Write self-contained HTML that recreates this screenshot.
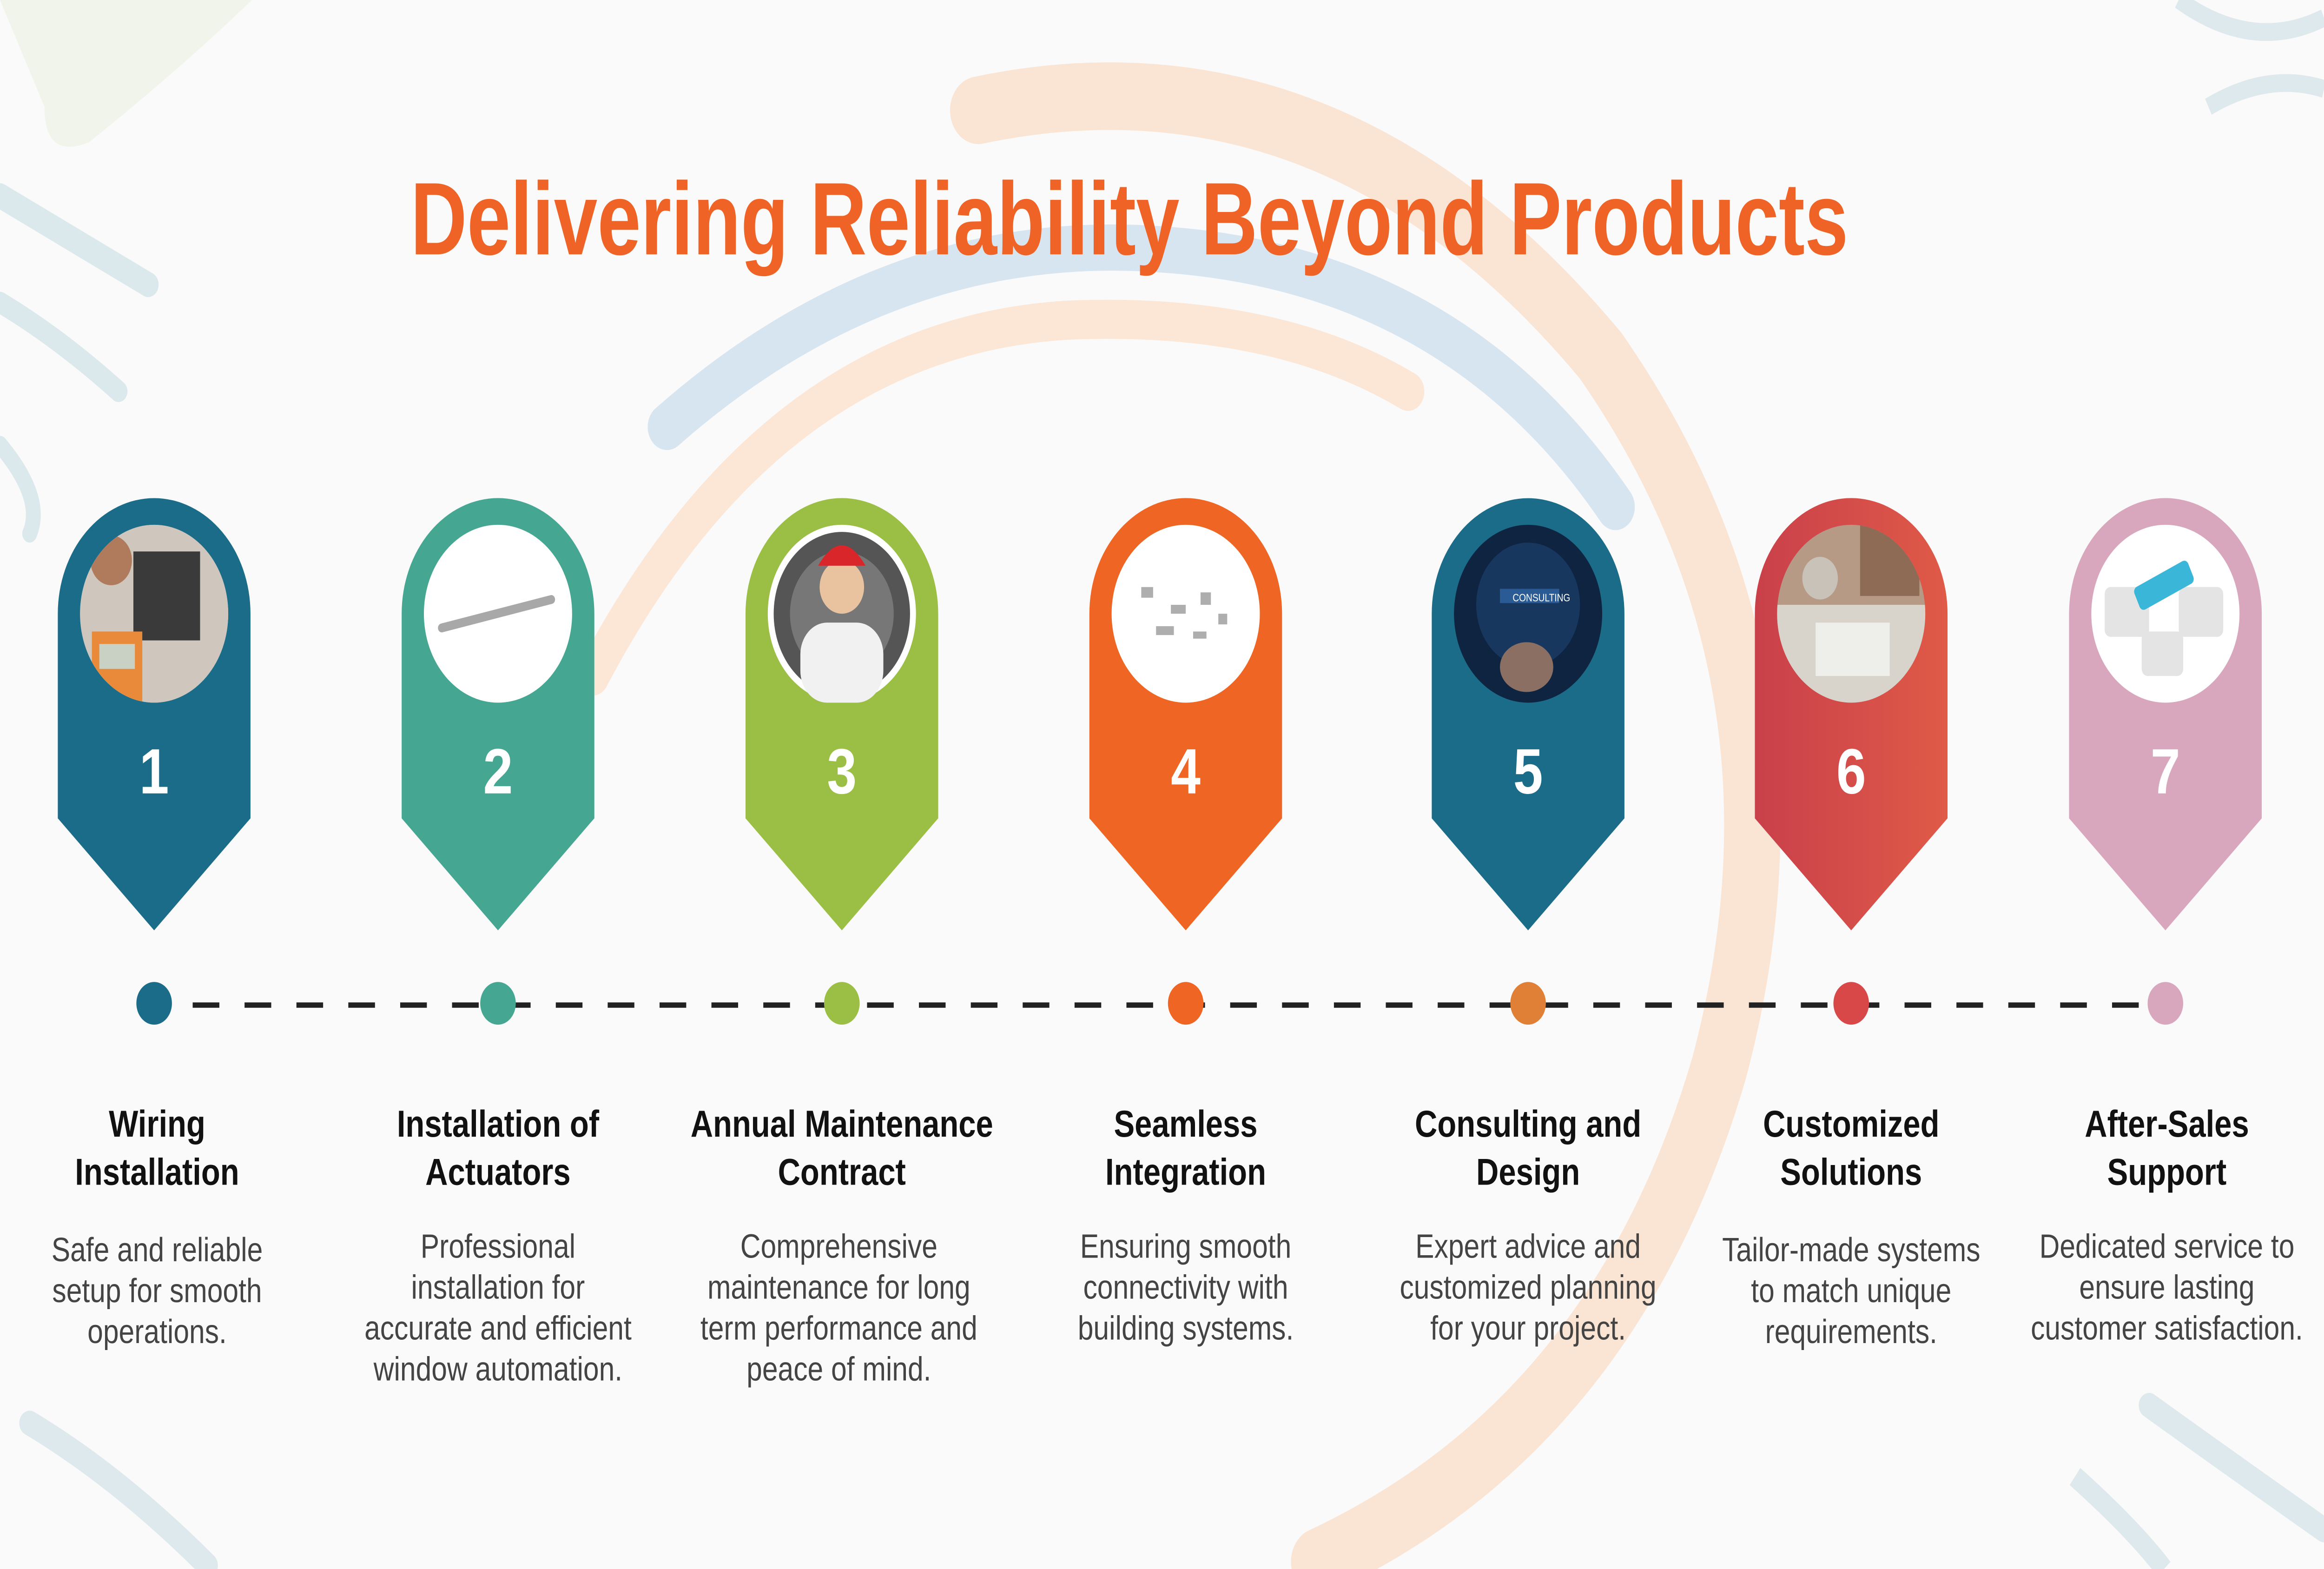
<!DOCTYPE html>
<html><head><meta charset="utf-8"><style>
html,body{margin:0;padding:0;background:#fbfafa;width:100%;height:100%;overflow:hidden;}
svg{display:block;width:100vw;height:100vh;position:absolute;left:0;top:0;}
text{font-family:"Liberation Sans",sans-serif;}
</style></head><body>
<svg viewBox="0 0 1568 882" preserveAspectRatio="none" xmlns="http://www.w3.org/2000/svg">
<defs>
<clipPath id="c1"><circle cx="104" cy="345" r="50"/></clipPath>
<clipPath id="c5"><circle cx="1031" cy="345" r="50"/></clipPath>
<clipPath id="c6"><circle cx="1249" cy="345" r="50"/></clipPath>
<linearGradient id="g6" x1="0" y1="0" x2="1" y2="0"><stop offset="0" stop-color="#c9404a"/><stop offset="1" stop-color="#e05a48"/></linearGradient>
</defs>
<rect width="1568" height="882" fill="#fbfafa"/>
<path d="M0,0 L170,0 Q120,40 60,80 Q30,90 30,60 Z" fill="#eef3e6" opacity="0.8"/>
<path d="M0,110 Q60,140 100,160" stroke="#dbe8ec" stroke-width="14" fill="none" stroke-linecap="round"/>
<path d="M0,170 Q40,190 80,220" stroke="#dbe8ec" stroke-width="12" fill="none" stroke-linecap="round"/>
<path d="M0,250 Q30,280 20,300" stroke="#dbe8ec" stroke-width="10" fill="none" stroke-linecap="round"/>
<path d="M20,800 Q80,830 140,880" stroke="#dde9ec" stroke-width="14" fill="none" stroke-linecap="round"/>
<path d="M1470,0 Q1520,30 1568,10" stroke="#dde9ec" stroke-width="10" fill="none"/>
<path d="M1490,60 Q1530,40 1568,50" stroke="#dde9ec" stroke-width="10" fill="none"/>
<path d="M1450,790 Q1500,820 1568,860" stroke="#dde9ec" stroke-width="14" fill="none" stroke-linecap="round"/>
<path d="M1400,830 Q1440,860 1460,882" stroke="#dde9ec" stroke-width="12" fill="none"/>
<path d="M660,62 Q900,20 1080,200 Q1230,380 1160,600 Q1090,800 890,878" stroke="#f9e1cc" stroke-width="38" fill="none" opacity="0.85" stroke-linecap="round"/>
<path d="M450,240 Q600,130 780,140 Q980,150 1090,285" stroke="#d3e2f0" stroke-width="26" fill="none" opacity="0.9" stroke-linecap="round"/>
<path d="M400,380 Q520,190 720,180 Q860,175 950,220" stroke="#fbe3cf" stroke-width="22" fill="none" opacity="0.85" stroke-linecap="round"/>
<text x="762" y="143" text-anchor="middle" font-size="58" font-weight="bold" fill="#ef6426" textLength="970" lengthAdjust="spacingAndGlyphs">Delivering Reliability Beyond Products</text>
<line x1="130" y1="565" x2="1450" y2="565" stroke="#222" stroke-width="3" stroke-dasharray="18,17"/>
<path d="M39,345 A65,65 0 0 1 169,345 L169,460 L104,523 L39,460 Z" fill="#1a6c88"/>
<path d="M271,345 A65,65 0 0 1 401,345 L401,460 L336,523 L271,460 Z" fill="#45a791"/>
<path d="M503,345 A65,65 0 0 1 633,345 L633,460 L568,523 L503,460 Z" fill="#9abf44"/>
<path d="M735,345 A65,65 0 0 1 865,345 L865,460 L800,523 L735,460 Z" fill="#ef6624"/>
<path d="M966,345 A65,65 0 0 1 1096,345 L1096,460 L1031,523 L966,460 Z" fill="#1a6c88"/>
<path d="M1184,345 A65,65 0 0 1 1314,345 L1314,460 L1249,523 L1184,460 Z" fill="url(#g6)"/>
<path d="M1396,345 A65,65 0 0 1 1526,345 L1526,460 L1461,523 L1396,460 Z" fill="#d8a6bd"/>
<circle cx="104" cy="345" r="50" fill="#d8d2cc"/>
<g clip-path="url(#c1)"><rect x="54" y="295" width="100" height="100" fill="#cfc6bd"/><rect x="90" y="310" width="45" height="50" fill="#3a3a3a"/><rect x="62" y="355" width="34" height="40" fill="#e98a3a"/><rect x="67" y="362" width="24" height="14" fill="#c9d0c4"/><circle cx="75" cy="315" r="14" fill="#b07a5c"/></g>
<circle cx="336" cy="345" r="50" fill="#fff"/>
<line x1="298" y1="353" x2="372" y2="337" stroke="#a8a8a8" stroke-width="5" stroke-linecap="round"/>
<circle cx="568" cy="345" r="50" fill="#fff"/>
<circle cx="568" cy="345" r="46" fill="#555"/><circle cx="568" cy="345" r="35" fill="#777"/>
<rect x="540" y="350" width="56" height="45" rx="18" fill="#f1f1f1"/>
<circle cx="568" cy="330" r="15" fill="#e9c2a0"/>
<path d="M552,318 Q568,295 584,318 Z" fill="#d9262b"/>
<circle cx="800" cy="345" r="50" fill="#fff"/>
<g fill="#9a9a9a" opacity="0.8"><rect x="770" y="330" width="8" height="6"/><rect x="790" y="340" width="10" height="5"/><rect x="810" y="333" width="7" height="7"/><rect x="780" y="352" width="12" height="5"/><rect x="805" y="355" width="9" height="4"/><rect x="822" y="345" width="6" height="6"/></g>
<circle cx="1031" cy="345" r="50" fill="#0e2440"/>
<g clip-path="url(#c5)"><circle cx="1031" cy="340" r="35" fill="#1b3c66" opacity="0.8"/><rect x="1012" y="331" width="40" height="8" fill="#2a5b95"/><text x="1040" y="338" font-size="6" fill="#fff" text-anchor="middle">CONSULTING</text><ellipse cx="1030" cy="375" rx="18" ry="14" fill="#8a6f62"/></g>
<circle cx="1249" cy="345" r="50" fill="#b79a86"/>
<g clip-path="url(#c6)"><rect x="1199" y="340" width="100" height="60" fill="#d8d4cc"/><rect x="1225" y="350" width="50" height="30" fill="#eeeeea"/><circle cx="1228" cy="325" r="12" fill="#c8c2b8"/><rect x="1255" y="295" width="40" height="40" fill="#8d6b54"/></g>
<circle cx="1461" cy="345" r="50" fill="#fff"/>
<g fill="#e4e4e4"><rect x="1420" y="330" width="30" height="28" rx="4"/><rect x="1470" y="330" width="30" height="28" rx="4"/><rect x="1445" y="355" width="28" height="25" rx="4"/></g>
<rect x="1440" y="322" width="40" height="14" rx="3" fill="#3ab7d8" transform="rotate(-25 1460 329)"/>
<g font-size="36" font-weight="bold" fill="#fff" text-anchor="middle">
<text x="104" y="446">1</text><text x="336" y="446">2</text><text x="568" y="446">3</text><text x="800" y="446">4</text><text x="1031" y="446">5</text><text x="1249" y="446">6</text><text x="1461" y="446">7</text>
</g>
<circle cx="104" cy="564" r="12" fill="#1a6c88"/>
<circle cx="336" cy="564" r="12" fill="#45a791"/>
<circle cx="568" cy="564" r="12" fill="#9abf44"/>
<circle cx="800" cy="564" r="12" fill="#ef6624"/>
<circle cx="1031" cy="564" r="12" fill="#e07f36"/>
<circle cx="1249" cy="564" r="12" fill="#d94848"/>
<circle cx="1461" cy="564" r="12" fill="#d8a6bd"/>
<g font-size="21" font-weight="bold" fill="#111" text-anchor="middle">
<text x="106" y="639">Wiring</text><text x="106" y="666">Installation</text>
<text x="336" y="639">Installation of</text><text x="336" y="666">Actuators</text>
<text x="568" y="639">Annual Maintenance</text><text x="568" y="666">Contract</text>
<text x="800" y="639">Seamless</text><text x="800" y="666">Integration</text>
<text x="1031" y="639">Consulting and</text><text x="1031" y="666">Design</text>
<text x="1249" y="639">Customized</text><text x="1249" y="666">Solutions</text>
<text x="1462" y="639">After-Sales</text><text x="1462" y="666">Support</text>
</g>
<g font-size="19" fill="#444" text-anchor="middle">
<text x="106" y="709">Safe and reliable</text><text x="106" y="732">setup for smooth</text><text x="106" y="755">operations.</text>
<text x="336" y="707">Professional</text><text x="336" y="730">installation for</text><text x="336" y="753">accurate and efficient</text><text x="336" y="776">window automation.</text>
<text x="566" y="707">Comprehensive</text><text x="566" y="730">maintenance for long</text><text x="566" y="753">term performance and</text><text x="566" y="776">peace of mind.</text>
<text x="800" y="707">Ensuring smooth</text><text x="800" y="730">connectivity with</text><text x="800" y="753">building systems.</text>
<text x="1031" y="707">Expert advice and</text><text x="1031" y="730">customized planning</text><text x="1031" y="753">for your project.</text>
<text x="1249" y="709">Tailor-made systems</text><text x="1249" y="732">to match unique</text><text x="1249" y="755">requirements.</text>
<text x="1462" y="707">Dedicated service to</text><text x="1462" y="730">ensure lasting</text><text x="1462" y="753">customer satisfaction.</text>
</g>
</svg>
</body></html>
